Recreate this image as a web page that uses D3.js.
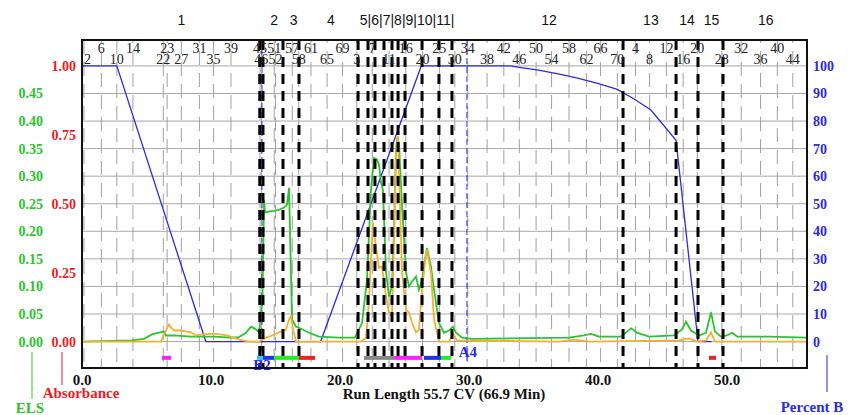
<!DOCTYPE html>
<html>
<head>
<meta charset="utf-8">
<script src="https://cdn.jsdelivr.net/npm/d3@7"></script>
<style>
  body { margin: 0; background: #fff; }
  text { font-family: "Liberation Serif", "DejaVu Serif", serif; }
</style>
</head>
<body>
<div id="chart"></div>
<script>
// run length in CV, ELS signal
var elsTrace = [
    [0, 0], [3.88, 0.002], [4.81, 0.005], [5.43, 0.013], [5.97, 0.016], [6.36, 0.018], [6.51, 0.011],
    [7.13, 0.011], [8.45, 0.009], [10.23, 0.009], [11.55, 0.007], [12.17, 0.008], [12.71, 0.016],
    [13.10, 0.027], [13.49, 0.022], [13.72, 0.016], [13.99, 0.076], [14.11, 0.257], [14.19, 0.234],
    [14.50, 0.236], [14.88, 0.237], [15.27, 0.239], [15.66, 0.243], [15.89, 0.248], [16.05, 0.279],
    [16.28, 0.040], [16.59, 0.027], [16.82, 0.025], [17.60, 0.016], [18.37, 0.009], [19.92, 0.007],
    [21.16, 0.007], [21.71, 0.034], [22.09, 0.112], [22.40, 0.275], [22.64, 0.333], [22.87, 0.330],
    [23.02, 0.321], [23.18, 0.288], [23.33, 0.275], [23.57, 0.125], [23.80, 0.082], [24.03, 0.100],
    [24.19, 0.203], [24.34, 0.348], [24.42, 0.366], [24.57, 0.361], [24.81, 0.245], [25.12, 0.125],
    [25.35, 0.100], [25.58, 0.109], [25.89, 0.118], [26.12, 0.094], [26.36, 0.112], [26.67, 0.161],
    [26.74, 0.170], [27.05, 0.136], [27.29, 0.094], [27.67, 0.034], [28.06, 0.016], [28.45, 0.020],
    [28.76, 0.027], [28.99, 0.016], [29.46, 0.007], [30.23, 0.005], [37.75, 0.007], [38.91, 0.011],
    [39.46, 0.014], [40.08, 0.009], [41.78, 0.009], [42.25, 0.018], [42.56, 0.024], [43.02, 0.016],
    [43.95, 0.009], [45.89, 0.011], [46.51, 0.022], [46.82, 0.036], [47.21, 0.020], [47.83, 0.011],
    [48.37, 0.016], [48.76, 0.053], [49.07, 0.018], [49.53, 0.009], [50.0, 0.011], [50.39, 0.016],
    [50.78, 0.009], [53.26, 0.009], [56.2, 0.007]
];

// absorbance
var absTrace = [
    [0, 0], [6.12, 0], [6.36, 0.025], [6.74, 0.062], [6.90, 0.051], [7.13, 0.040], [7.67, 0.040],
    [8.45, 0.033], [8.84, 0.022], [9.22, 0.025], [10.23, 0.029], [11.24, 0.022], [12.17, 0.007],
    [12.95, 0], [13.72, 0], [14.26, 0.014], [14.73, 0.022], [15.27, 0.033], [15.81, 0.043],
    [16.05, 0.080], [16.20, 0.091], [16.36, 0.043], [16.59, 0], [21.63, 0], [22.02, 0.014],
    [22.25, 0.152], [22.40, 0.297], [22.56, 0.431], [22.71, 0.370], [23.02, 0.268], [23.26, 0.272],
    [23.57, 0.163], [23.80, 0.105], [24.03, 0.091], [24.19, 0.370], [24.34, 0.696], [24.50, 0.745],
    [24.57, 0.623], [24.81, 0.250], [25.12, 0.116], [25.35, 0.105], [25.58, 0.069], [25.89, 0.033],
    [26.12, 0.043], [26.36, 0.188], [26.67, 0.322], [26.74, 0.333], [27.05, 0.250], [27.29, 0.080],
    [27.67, 0], [28.45, 0], [28.76, 0.029], [29.07, 0.004], [36.98, 0], [38.14, 0.007], [39.30, 0],
    [46.28, 0.004], [47.05, 0.011], [47.67, 0], [48.37, 0.004], [48.76, 0.033], [49.07, 0], [56.2, 0]
];

// percent B gradient
var gradient = [
    [0, 100], [2.70, 100], [9.6, 0], [18.5, 0], [26.3, 100], [33.2, 100], [33.9, 99.5], [35.4, 98.5],
    [37.0, 97], [38.5, 95.5], [40.1, 93.5], [41.5, 91.5], [42.8, 88], [44.1, 84], [46.05, 73],
    [47.75, 0], [48.8, 0]
];

var fractionCuts = [13.78, 14.03, 15.58, 16.82, 21.40, 22.17, 22.71, 23.41, 24.03, 24.50, 25.04,
    26.36, 27.67, 28.68, 41.94, 46.05, 47.75, 49.69];

var fractionNames = ["1", "2", "3", "4", "5|6|7|8|9|10|11|", "12", "13", "14", "15", "16"];
var fractionNameCV = [7.7, 14.9, 16.4, 19.3, 25.2, 36.2, 44.1, 46.9, 48.8, 53.0];

var tubesUpper = ["6", "14", "23", "31", "39", "45", "51", "57", "61", "69", "7", "16", "25", "34",
    "42", "50", "58", "66", "4", "12", "20", "32", "40"];
var tubesUpperCV = [1.5, 3.95, 6.6, 9.1, 11.55, 13.8, 14.9, 16.3, 17.75, 20.2, 22.5, 25.1, 27.7, 29.9,
    32.7, 35.2, 37.75, 40.2, 42.9, 45.3, 47.7, 51.1, 53.9];
var tubesLower = ["2", "10", "22", "27", "35", "46", "52", "58", "65", "3", "11", "20", "30", "38",
    "46", "54", "62", "70", "8", "16", "28", "36", "44"];
var tubesLowerCV = [0.15, 2.7, 6.3, 7.7, 10.2, 13.9, 15.0, 16.8, 19.0, 21.3, 23.8, 26.4, 28.9, 31.4,
    33.9, 36.4, 39.1, 41.5, 44.0, 46.6, 49.6, 52.6, 55.1];

var collectStart = [6.2, 13.57, 14.03, 14.88, 16.82, 21.86, 24.19, 26.51, 27.83, 48.6];
var collectEnd   = [6.9, 13.95, 14.88, 16.82, 18.06, 24.19, 26.36, 27.83, 28.6, 49.15];
var collectColor = ["#ff22ff", "#22ccff", "#2233ee", "#22ee22", "#ee2222", "#888888", "#ff22ff",
    "#2233ee", "#22ee22", "#ee2222"];

var markerNames = ["B2", "A4"];
var markerCV = [13.95, 29.84];

var elsTicks = [0, 0.05, 0.10, 0.15, 0.20, 0.25, 0.30, 0.35, 0.40, 0.45];
var absTicks = [0, 0.25, 0.50, 0.75, 1.00];
var pctTicks = [0, 10, 20, 30, 40, 50, 60, 70, 80, 90, 100];
var xTicks = [0, 10, 20, 30, 40, 50];

var W = 849, H = 415,
    box = { left: 82, right: 807, top: 40, bottom: 368 };

var green = "#2cc42c", red = "#ee1c24", blue = "#2b2be0", orange = "#f3b130";

var svg = d3.select("#chart").append("svg")
    .attr("width", W)
    .attr("height", H);

var x = d3.scaleLinear().domain([0, 56.2]).range([box.left, box.right]);
var y = d3.scaleLinear().domain([-9.6, 109.4]).range([box.bottom, box.top]);   // percent B
var yAbs = function (v) { return y(v * 100); };
var yEls = function (v) { return y(v * 200); };

// horizontal grid
svg.append("g").selectAll("line")
    .data(pctTicks)
    .enter().append("line")
    .attr("x1", box.left).attr("x2", box.right)
    .attr("y1", function (d) { return y(d); })
    .attr("y2", function (d) { return y(d); })
    .attr("stroke", "#a8a8a8")
    .attr("stroke-width", 1);

// tube marks
var tubeCV = tubesUpperCV.concat(tubesLowerCV).sort(d3.ascending);
svg.append("g").selectAll("line")
    .data(tubeCV)
    .enter().append("line")
    .attr("x1", function (d) { return x(d); })
    .attr("x2", function (d) { return x(d); })
    .attr("y1", box.top).attr("y2", box.bottom)
    .attr("stroke", "#a0a0a0")
    .attr("stroke-width", 1)
    .attr("stroke-dasharray", "14,8")
    .attr("stroke-dashoffset", function (d, i) { return i % 2 ? 11 : 0; });

// blue markers
svg.append("g").selectAll("line")
    .data(markerCV)
    .enter().append("line")
    .attr("x1", function (d) { return x(d); })
    .attr("x2", function (d) { return x(d); })
    .attr("y1", box.top).attr("y2", y(-7.5))
    .attr("stroke", blue)
    .attr("stroke-width", 1)
    .attr("stroke-dasharray", "6,3");

var line = d3.line();

svg.append("path")
    .attr("d", line(gradient.map(function (d) { return [x(d[0]), y(d[1])]; })))
    .attr("fill", "none")
    .attr("stroke", blue)
    .attr("stroke-width", 1.3);

svg.append("path")
    .attr("d", line(elsTrace.map(function (d) { return [x(d[0]), yEls(d[1])]; })))
    .attr("fill", "none")
    .attr("stroke", green)
    .attr("stroke-width", 1.8);

svg.append("path")
    .attr("d", line(absTrace.map(function (d) { return [x(d[0]), yAbs(d[1])]; })))
    .attr("fill", "none")
    .attr("stroke", orange)
    .attr("stroke-width", 1.8);

// fraction cuts
svg.append("g").selectAll("line")
    .data(fractionCuts)
    .enter().append("line")
    .attr("x1", function (d) { return x(d); })
    .attr("x2", function (d) { return x(d); })
    .attr("y1", box.top).attr("y2", box.bottom)
    .attr("stroke", "#000")
    .attr("stroke-width", 3)
    .attr("stroke-dasharray", "10,7");

// collected fraction bars
svg.append("g").selectAll("rect")
    .data(collectStart)
    .enter().append("rect")
    .attr("x", function (d) { return x(d); })
    .attr("width", function (d, i) { return x(collectEnd[i]) - x(d); })
    .attr("y", y(-5.2))
    .attr("height", 4)
    .attr("fill", function (d, i) { return collectColor[i]; });

// marker names
svg.append("text").attr("x", x(markerCV[0])).attr("y", y(-10.2))
    .attr("text-anchor", "middle").attr("fill", blue)
    .attr("font-size", 15).attr("font-weight", "bold").text(markerNames[0]);
svg.append("text").attr("x", x(markerCV[1]) + 1).attr("y", y(-5.5))
    .attr("text-anchor", "middle").attr("fill", blue)
    .attr("font-size", 15).attr("font-weight", "bold").text(markerNames[1]);

// frame
svg.append("rect")
    .attr("x", box.left).attr("y", box.top)
    .attr("width", box.right - box.left).attr("height", box.bottom - box.top)
    .attr("fill", "none")
    .attr("stroke", "#111")
    .attr("stroke-width", 2);

// tube numbers
svg.append("g").selectAll("text")
    .data(tubesUpper)
    .enter().append("text")
    .attr("x", function (d, i) { return x(tubesUpperCV[i]); })
    .attr("y", 53)
    .attr("text-anchor", "middle")
    .attr("font-size", 14)
    .attr("fill", "#222")
    .text(function (d) { return d; });
svg.append("g").selectAll("text")
    .data(tubesLower)
    .enter().append("text")
    .attr("x", function (d, i) { return x(tubesLowerCV[i]); })
    .attr("y", 64)
    .attr("text-anchor", function (d, i) { return i === 0 ? "start" : "middle"; })
    .attr("font-size", 14)
    .attr("fill", "#222")
    .text(function (d) { return d; });

// fraction names
svg.append("g").selectAll("text")
    .data(fractionNames)
    .enter().append("text")
    .attr("x", function (d, i) { return x(fractionNameCV[i]); })
    .attr("y", 25)
    .attr("text-anchor", "middle")
    .attr("font-family", "Liberation Sans, Arial, sans-serif")
    .style("font-family", "'Liberation Sans', Arial, sans-serif")
    .attr("font-size", 14)
    .attr("fill", "#111")
    .text(function (d) { return d; });

// left axes
svg.append("g").selectAll("text")
    .data(elsTicks)
    .enter().append("text")
    .attr("x", 43)
    .attr("y", function (d) { return yEls(d) + 5; })
    .attr("text-anchor", "end")
    .attr("font-size", 14).attr("font-weight", "bold")
    .attr("fill", green)
    .text(function (d) { return d.toFixed(2); });

svg.append("g").selectAll("text")
    .data(absTicks)
    .enter().append("text")
    .attr("x", 76)
    .attr("y", function (d) { return yAbs(d) + 5; })
    .attr("text-anchor", "end")
    .attr("font-size", 14).attr("font-weight", "bold")
    .attr("fill", red)
    .text(function (d) { return d.toFixed(2); });

// right axis
svg.append("g").selectAll("text")
    .data(pctTicks)
    .enter().append("text")
    .attr("x", 813)
    .attr("y", function (d) { return y(d) + 5; })
    .attr("font-size", 14).attr("font-weight", "bold")
    .attr("fill", blue)
    .text(function (d) { return d; });

// bottom axis
svg.append("g").selectAll("text")
    .data(xTicks)
    .enter().append("text")
    .attr("x", function (d) { return x(d); })
    .attr("y", 385)
    .attr("text-anchor", "middle")
    .attr("font-size", 15).attr("font-weight", "bold")
    .attr("fill", "#111")
    .text(function (d) { return d.toFixed(1); });

svg.append("text")
    .attr("x", 444).attr("y", 399)
    .attr("text-anchor", "middle")
    .attr("font-size", 15).attr("font-weight", "bold")
    .attr("fill", "#111")
    .text("Run Length 55.7 CV (66.9 Min)");

// axis keys
svg.append("line").attr("x1", 32).attr("x2", 32).attr("y1", 352).attr("y2", 399)
    .attr("stroke", green).attr("stroke-width", 1);
svg.append("text").attr("x", 30).attr("y", 413).attr("text-anchor", "middle")
    .attr("font-size", 15).attr("font-weight", "bold").attr("fill", green).text("ELS");

svg.append("line").attr("x1", 62).attr("x2", 62).attr("y1", 352).attr("y2", 385)
    .attr("stroke", red).attr("stroke-width", 1);
svg.append("text").attr("x", 81).attr("y", 398).attr("text-anchor", "middle")
    .attr("font-size", 15).attr("font-weight", "bold").attr("fill", red).text("Absorbance");

svg.append("line").attr("x1", 827).attr("x2", 827).attr("y1", 355).attr("y2", 392)
    .attr("stroke", blue).attr("stroke-width", 1);
svg.append("text").attr("x", 812).attr("y", 412).attr("text-anchor", "middle")
    .attr("font-size", 15).attr("font-weight", "bold").attr("fill", blue).text("Percent B");
</script>
</body>
</html>
